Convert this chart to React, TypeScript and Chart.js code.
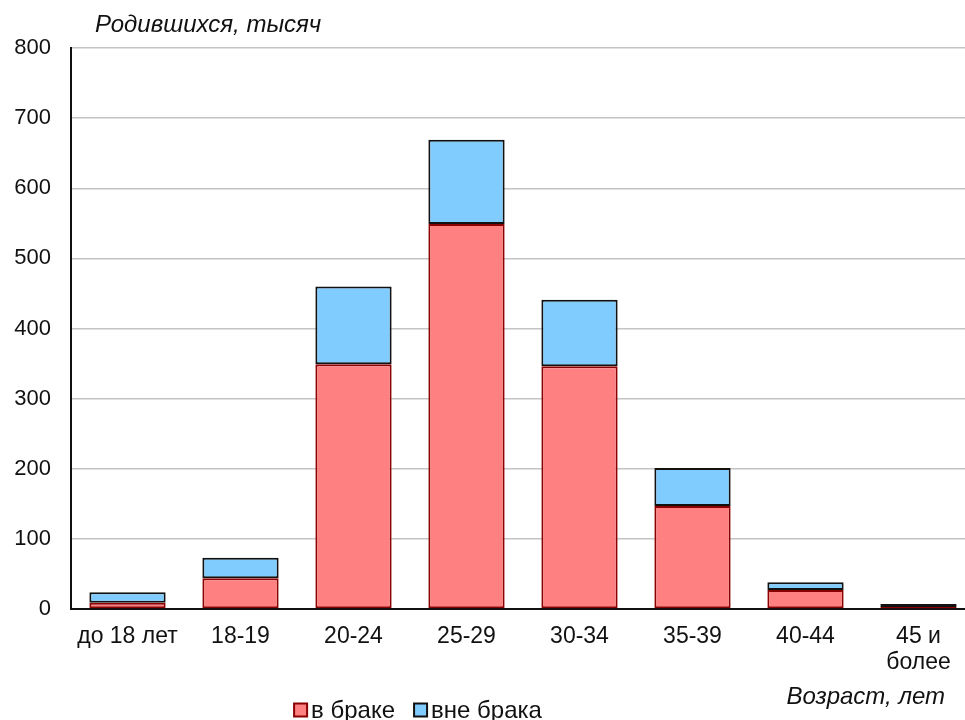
import { useEffect, useRef } from 'react';
import { Chart, registerables } from 'chart.js';
Chart.register(...registerables);

const categories: (string | string[])[] = ['до 18 лет', '18-19', '20-24', '25-29', '30-34', '35-39', '40-44', ['45 и', 'более']];
const marriedValues = [9, 44, 349, 549, 346, 147, 27, 3];
const unmarriedValues = [15, 29, 111, 120, 95, 54, 11, 4];
const seriesLabels = ['в браке', 'вне брака'];
const yTitle = 'Родившихся, тысяч';
const xTitle = 'Возраст, лет';

const FONT = '"Liberation Sans", Arial, sans-serif';
const TEXT = '#111111';

const textPlugin = {
  id: 'customTexts',
  afterDraw(chart: any) {
    const ctx = chart.ctx as CanvasRenderingContext2D;
    ctx.save();
    ctx.fillStyle = TEXT;
    ctx.font = `italic 24px ${FONT}`;
    ctx.textBaseline = 'middle';
    ctx.textAlign = 'left';
    ctx.fillText(yTitle, 95, 25);
    ctx.textAlign = 'right';
    ctx.fillText(xTitle, 945, 697);

    // legend
    ctx.font = `24px ${FONT}`;
    ctx.textAlign = 'left';
    const items = chart.data.datasets.map((d: any) => ({
      label: d.label,
      fill: d.backgroundColor,
      stroke: d.borderColor,
      w: ctx.measureText(d.label).width,
    }));
    const box = 13, gap = 4, itemGap = 19;
    const total = items.reduce((s: number, it: any) => s + box + gap + it.w, 0) + itemGap * (items.length - 1);
    let x = 418 - total / 2;
    const cy = 710;
    items.forEach((it: any) => {
      ctx.fillStyle = it.fill;
      ctx.fillRect(x, cy - box / 2, box, box);
      ctx.strokeStyle = it.stroke;
      ctx.lineWidth = 2;
      ctx.strokeRect(x, cy - box / 2, box, box);
      ctx.fillStyle = TEXT;
      ctx.fillText(it.label, x + box + gap, cy + 1);
      x += box + gap + it.w + itemGap;
    });
    ctx.restore();
  },
};

export default function App() {
  const ref = useRef<HTMLCanvasElement>(null);
  useEffect(() => {
    const chart = new Chart(ref.current!, {
      type: 'bar',
      data: {
        labels: categories as any,
        datasets: [
          {
            label: seriesLabels[0],
            data: marriedValues,
            backgroundColor: '#ff8080',
            borderColor: '#8b0000',
            borderWidth: 2,
            borderSkipped: false,
          },
          {
            label: seriesLabels[1],
            data: unmarriedValues,
            backgroundColor: '#80ccff',
            borderColor: '#111111',
            borderWidth: 2,
            borderSkipped: false,
          },
        ],
      },
      options: {
        responsive: false,
        animation: false,
        devicePixelRatio: 1,
        layout: { padding: { left: 0, right: 15, top: 48, bottom: 36 } },
        plugins: { legend: { display: false }, tooltip: { enabled: false } },
        datasets: { bar: { categoryPercentage: 1, barPercentage: 0.675 } },
        scales: {
          x: {
            stacked: true,
            grid: { display: false, drawTicks: false },
            border: { display: true, color: '#111', width: 2 },
            ticks: { color: TEXT, font: { family: FONT, size: 23, lineHeight: 1.15 }, padding: 14, maxRotation: 0, autoSkip: false },
            afterFit(scale: any) { scale.height = 75; },
          },
          y: {
            stacked: true,
            min: 0,
            max: 800,
            ticks: { stepSize: 100, color: TEXT, font: { family: FONT, size: 22 }, padding: 20 },
            grid: { color: '#c4c4c4', lineWidth: 1.5, drawTicks: false },
            border: { display: true, color: '#111', width: 2 },
            afterFit(scale: any) { scale.width = 71; },
          },
        },
      },
      plugins: [textPlugin],
    });
    return () => chart.destroy();
  }, []);
  return (
    <div style={{ position: 'fixed', left: 0, top: 0, width: 965, height: 720, overflow: 'hidden', background: '#fff' }}>
      <canvas ref={ref} width={990} height={720} style={{ display: 'block', width: 990, height: 720 }} />
    </div>
  );
}
